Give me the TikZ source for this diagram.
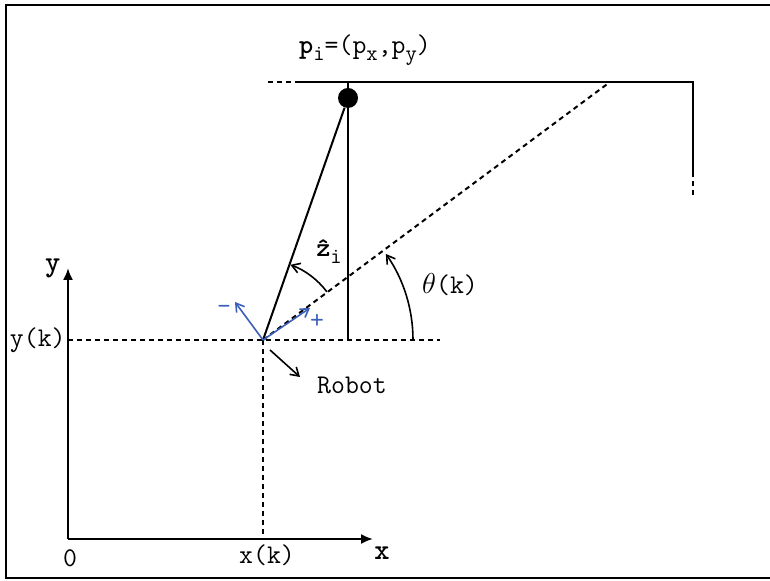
\documentclass[tikz,border=0pt]{standalone}
\usepackage{fontspec}
\usetikzlibrary{arrows.meta, positioning, calc}
\definecolor{dirblue}{RGB}{60,95,185}

\begin{document}
\begin{tikzpicture}[x=0.5pt, y=0.5pt, font=\ttfamily\fontsize{13.5}{15}\selectfont,
  ln/.style={line width=1pt},
  dl/.style={line width=1pt, dash pattern=on 2.5pt off 2pt},
  barb/.style={-{Straight Barb[length=4pt,width=5pt]}, line width=0.8pt},
  ax/.style={-{Latex[length=6pt,width=5pt]}, line width=1pt},
  blu/.style={barb, dirblue},
  bf/.style={font=\ttfamily\bfseries\fontsize{14.5}{16}\selectfont}]
  \useasboundingbox (0,0) rectangle (770,581);
  % frame
  \draw[line width=1.4pt] (770,576) -- (6,576) -- (6,3) -- (770,3);
  % named points
  \coordinate (o) at (68,42);
  \coordinate (robot) at (263,241);
  \coordinate (yk) at (68,241);
  \coordinate (xk) at (263,42);
  \coordinate (hd) at (610,499);
  \coordinate (wl) at (268,499);
  \coordinate (ws) at (295,499);
  \coordinate (wc) at (693,499);
  \coordinate (wr) at (693,409);
  \coordinate (we) at (693,384);
  \coordinate (foot) at (348,241);
  \coordinate (hend) at (440,241);
  \node[circle, fill=black, inner sep=0pt, minimum size=10pt] (lm) at (348,483) {};
  % axes
  \draw[ax] (o) -- (68,313) node[left=0pt, bf] (ylab) {y};
  \draw[ax] (o) -- (373,42);
  \node[bf] (xlab) at (382,28) {x};
  \node (zero) at (70,23) {0};
  \node (xklab) at (267,26) {x(k)};
  \node[left=1pt of yk, inner sep=0pt] (yklab) {y(k)};
  % wall
  \draw[dl] (wl) -- (ws);
  \draw[ln] (ws) -- (wc) -- (wr);
  \draw[dl] (wr) -- (we);
  \draw[ln] (348,499) -- (lm);
  % robot geometry
  \draw[dl] (yk) -- (hend);
  \draw[dl] (robot) -- (xk);
  \draw[dl] (robot) -- (hd);
  \draw[ln] (robot) -- (lm);
  \draw[ln] (lm) -- (foot);
  % angles
  \draw[barb] ($(robot)+(0:150)$) arc (0:35:150);
  \draw[barb] ($(robot)+(37:80)$) arc (37:70:80);
  \node (th) at (450,296) {$\theta$(k)};
  \node (zi) at (329,329) {\textbf{\^z}\raisebox{-0.6ex}{\fontsize{11}{12}\selectfont i}};
  % direction arrows
  \draw[blu] (robot) -- (310,273);
  \draw[blu] (robot) -- (235,279);
  \node[text=dirblue] (plus) at (317,260) {+};
  \node[text=dirblue] (minus) at (224,271) {-};
  % robot label
  \node (rob) at (352,196) {Robot};
  \draw[barb] (270,231) -- (300,204);
  % landmark label
  \node (pi) at (365,531) {\textbf{p}\raisebox{-0.6ex}{\fontsize{11}{12}\selectfont i}=(p\raisebox{-0.6ex}{\fontsize{11}{12}\selectfont x},p\raisebox{-0.6ex}{\fontsize{11}{12}\selectfont y})};
\end{tikzpicture}
\end{document}
